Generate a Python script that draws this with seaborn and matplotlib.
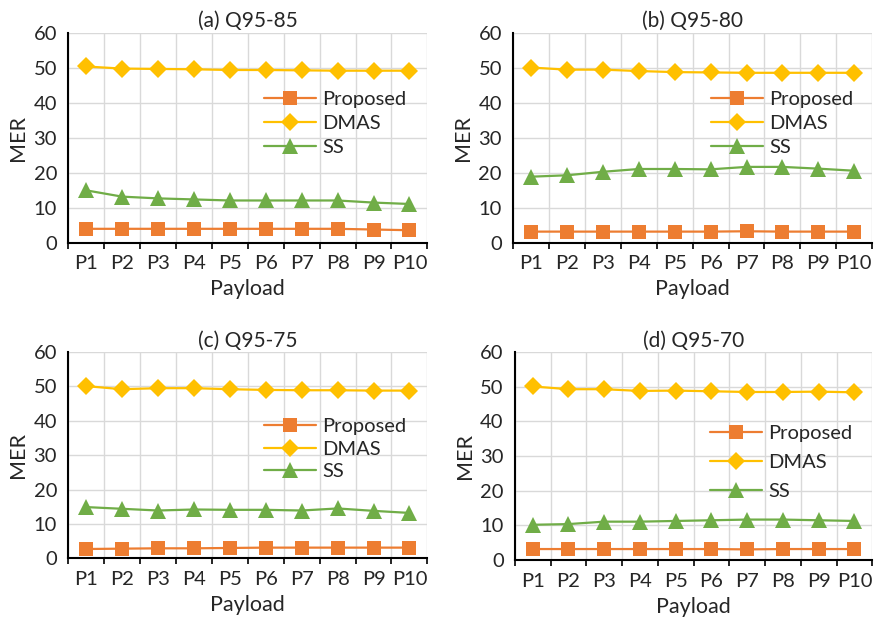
import numpy as np
import pandas as pd
import matplotlib
matplotlib.use('Agg')
import matplotlib.pyplot as plt
import seaborn as sns

sns.set_theme(style='white')
plt.rcParams['font.family'] = ['Lato', 'DejaVu Sans']

# Data
payloads = ['P1', 'P2', 'P3', 'P4', 'P5', 'P6', 'P7', 'P8', 'P9', 'P10']
methods = ['Proposed', 'DMAS', 'SS']
titles = ['(a) Q95-85', '(b) Q95-80', '(c) Q95-75', '(d) Q95-70']

proposed_a = [4.0, 4.0, 4.0, 4.0, 4.0, 4.0, 4.0, 4.0, 3.8, 3.6]
dmas_a = [50.4, 49.8, 49.7, 49.6, 49.4, 49.4, 49.3, 49.2, 49.2, 49.2]
ss_a = [15.0, 13.2, 12.7, 12.4, 12.1, 12.1, 12.1, 12.1, 11.5, 11.1]

proposed_b = [3.2, 3.2, 3.2, 3.2, 3.2, 3.2, 3.3, 3.2, 3.2, 3.2]
dmas_b = [50.1, 49.5, 49.5, 49.1, 48.8, 48.7, 48.6, 48.6, 48.6, 48.6]
ss_b = [18.9, 19.3, 20.3, 21.1, 21.1, 21.0, 21.7, 21.7, 21.2, 20.6]

proposed_c = [2.7, 2.8, 2.9, 2.9, 3.0, 3.1, 3.1, 3.1, 3.1, 3.1]
dmas_c = [50.1, 49.2, 49.5, 49.5, 49.2, 49.0, 48.9, 48.9, 48.8, 48.8]
ss_c = [14.9, 14.4, 13.9, 14.2, 14.1, 14.1, 13.9, 14.5, 13.8, 13.2]

proposed_d = [3.2, 3.2, 3.2, 3.2, 3.2, 3.2, 3.1, 3.2, 3.2, 3.2]
dmas_d = [50.1, 49.3, 49.3, 48.8, 48.9, 48.7, 48.5, 48.5, 48.6, 48.4]
ss_d = [10.2, 10.4, 11.1, 11.1, 11.3, 11.5, 11.7, 11.7, 11.5, 11.3]

panels = [
    (proposed_a, dmas_a, ss_a),
    (proposed_b, dmas_b, ss_b),
    (proposed_c, dmas_c, ss_c),
    (proposed_d, dmas_d, ss_d),
]

palette = {'Proposed': '#ED7D31', 'DMAS': '#FFC000', 'SS': '#70AD47'}
markers = {'Proposed': 's', 'DMAS': 'D', 'SS': '^'}
msizes = {'Proposed': 10, 'DMAS': 9, 'SS': 11}

# axes positions in figure fraction (left, bottom, width, height)
positions = [
    (0.078, 0.609, 0.411, 0.338),
    (0.587, 0.609, 0.411, 0.338),
    (0.078, 0.101, 0.411, 0.332),
    (0.589, 0.098, 0.409, 0.335),
]
legend_anchor = [(0.545, 0.57), (0.55, 0.57), (0.545, 0.53), (0.545, 0.47)]
legend_spacing = [0.35, 0.35, 0.25, 0.6]

fig = plt.figure(figsize=(8.74, 6.21), dpi=100)

for i, (vals, title) in enumerate(zip(panels, titles)):
    ax = fig.add_axes(positions[i])
    df = pd.DataFrame({
        'Payload': payloads * 3,
        'MER': vals[0] + vals[1] + vals[2],
        'Method': np.repeat(methods, len(payloads)),
    })
    for m in methods:
        sub = df[df['Method'] == m]
        sns.lineplot(data=sub, x='Payload', y='MER', ax=ax, color=palette[m],
                     marker=markers[m], markersize=msizes[m], markeredgewidth=0,
                     linewidth=1.6, label=m, sort=False)

    ax.set_xlim(-0.5, len(payloads) - 0.5)
    ax.set_ylim(0, 60)
    ax.set_yticks(range(0, 61, 10))
    ax.set_xticks(range(len(payloads)))
    ax.set_xticklabels(payloads)
    ax.set_xticks(np.arange(-0.5, len(payloads), 1), minor=True)

    ax.grid(axis='y', which='major', color='#D9D9D9', linewidth=1)
    ax.grid(axis='x', which='minor', color='#D9D9D9', linewidth=1)
    ax.grid(axis='x', which='major', visible=False)
    ax.set_axisbelow(True)

    for s in ['top', 'right']:
        ax.spines[s].set_visible(False)
    for s in ['left', 'bottom']:
        ax.spines[s].set_color('black')
        ax.spines[s].set_linewidth(1.5)

    ax.tick_params(axis='y', which='major', direction='out', length=5,
                   width=1.5, color='black', labelsize=14.5, pad=3)
    ax.tick_params(axis='x', which='major', length=0, labelsize=14.5, pad=9)
    ax.tick_params(axis='x', which='minor', direction='out', length=4,
                   width=1.2, color='black', bottom=True)

    ax.set_title(title, fontsize=15, pad=4)
    ax.set_xlabel('Payload', fontsize=15.5, labelpad=5)
    ax.set_ylabel('MER', fontsize=15.5, labelpad=4)

    leg = ax.legend(loc='center left', bbox_to_anchor=legend_anchor[i],
                    frameon=False, fontsize=14.5, handlelength=2.6,
                    handletextpad=0.3, labelspacing=legend_spacing[i],
                    borderaxespad=0, borderpad=0)

fig.savefig('out.png', dpi=100)
